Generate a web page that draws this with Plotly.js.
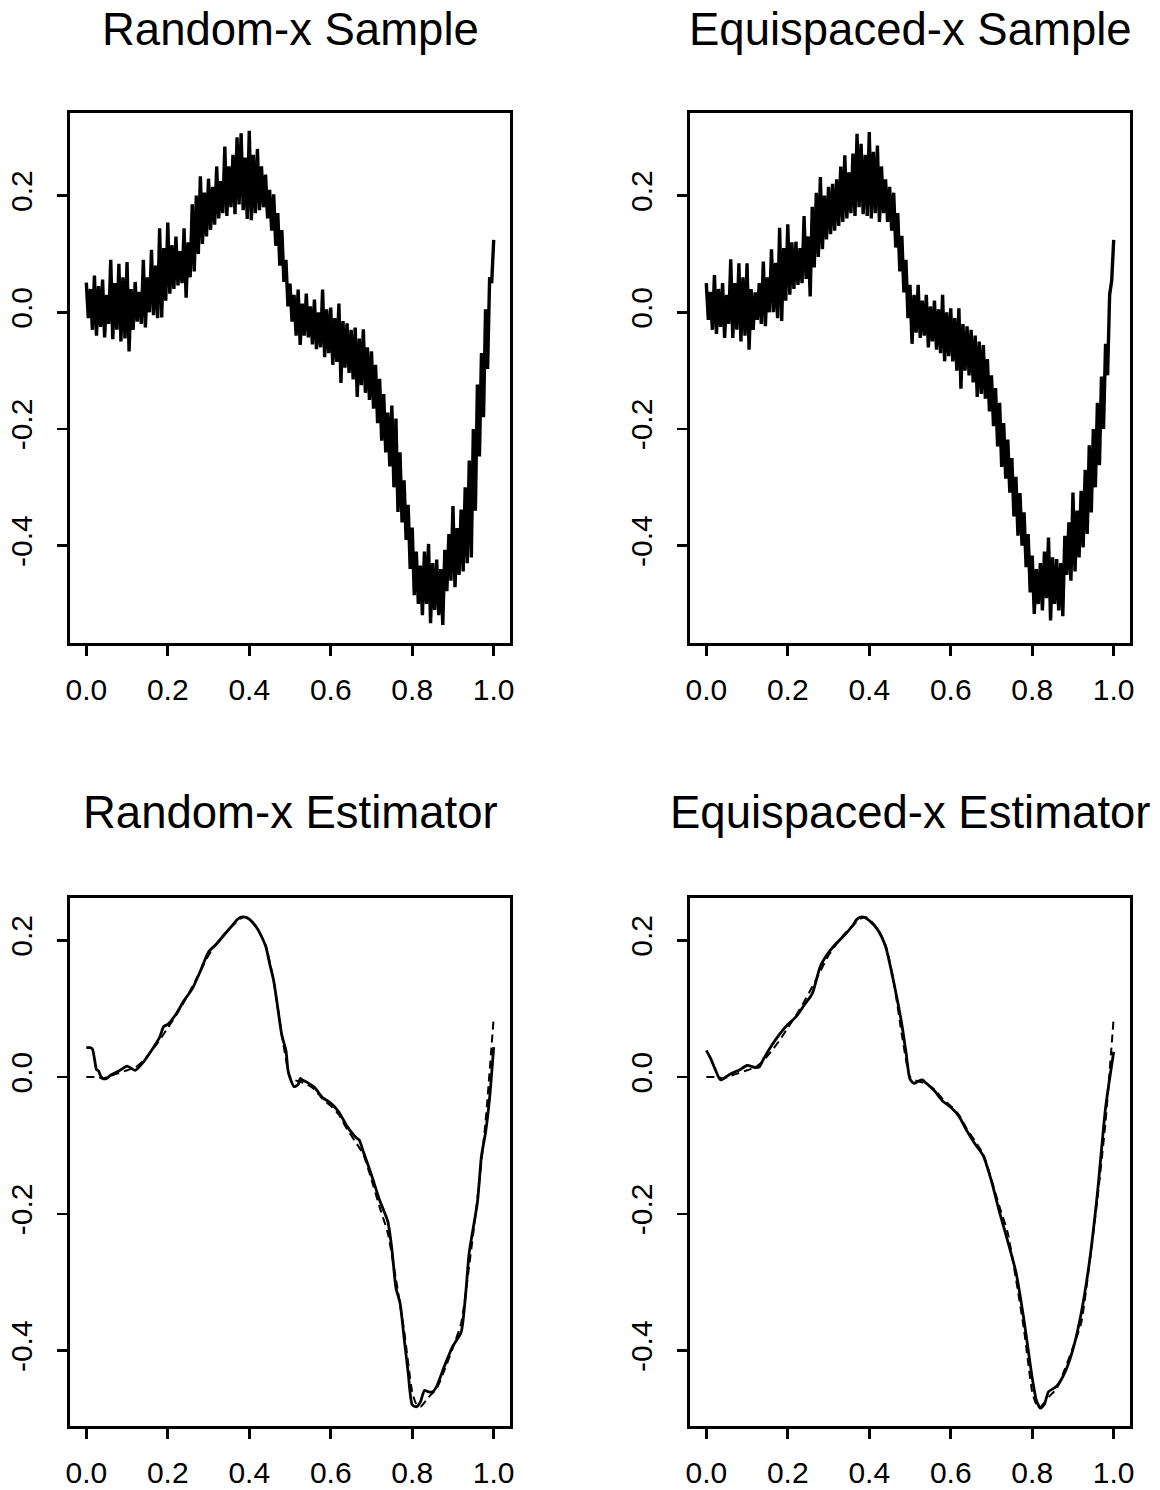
<!DOCTYPE html>
<html>
<head>
<meta charset="utf-8">
<script src="https://cdn.plot.ly/plotly-3.0.1.min.js"></script>
<style>html,body{margin:0;padding:0;background:#fff;}#chart{width:1160px;height:1490px;}</style>
</head>
<body>
<div id="chart"></div>
<script>
// ---------- Data ----------
const panelTitles = ["Random-x Sample", "Equispaced-x Sample", "Random-x Estimator", "Equispaced-x Estimator"];
const xTickVals = [0, 0.2, 0.4, 0.6, 0.8, 1.0];
const xTickText = ["0.0", "0.2", "0.4", "0.6", "0.8", "1.0"];
const yTickVals = [-0.4, -0.2, 0, 0.2];
const yTickText = ["-0.4", "-0.2", "0.0", "0.2"];

// Noisy samples: upper excursions at x = 0.00,0.01,...,1.00 and lower excursions at x = 0.005,...,0.995
const randUpper = [0.051,0.040,0.063,0.045,0.056,0.030,0.090,0.050,0.083,0.060,0.086,0.040,0.052,0.035,0.090,0.060,0.107,0.080,0.144,0.110,
 0.154,0.115,0.130,0.105,0.144,0.120,0.185,0.200,0.233,0.205,0.229,0.215,0.250,0.225,0.284,0.250,0.270,0.300,0.307,0.265,
 0.311,0.270,0.280,0.250,0.236,0.210,0.202,0.170,0.141,0.090,0.049,0.030,0.039,0.015,0.032,0.010,0.022,0.000,0.039,0.005,
 0.008,-0.010,0.015,-0.015,-0.019,-0.030,-0.026,-0.045,-0.029,-0.060,-0.067,-0.090,-0.114,-0.140,-0.172,-0.160,-0.182,-0.240,-0.288,-0.330,
 -0.369,-0.410,-0.434,-0.410,-0.397,-0.430,-0.424,-0.440,-0.407,-0.380,-0.332,-0.370,-0.338,-0.300,-0.254,-0.200,-0.124,-0.070,0.005,0.060,0.124];
const randLower = [-0.010,-0.030,-0.040,-0.025,-0.043,-0.020,-0.046,-0.030,-0.050,-0.045,-0.067,-0.030,-0.016,-0.020,-0.026,0.000,-0.005,-0.010,-0.009,0.020,
 0.032,0.040,0.046,0.050,0.025,0.060,0.070,0.100,0.117,0.130,0.141,0.150,0.161,0.170,0.165,0.180,0.168,0.185,0.175,0.160,
 0.158,0.170,0.175,0.180,0.161,0.140,0.114,0.080,0.052,0.010,-0.016,-0.040,-0.056,-0.040,-0.043,-0.055,-0.063,-0.060,-0.077,-0.070,
 -0.090,-0.085,-0.121,-0.095,-0.104,-0.115,-0.145,-0.125,-0.138,-0.150,-0.165,-0.190,-0.220,-0.240,-0.264,-0.300,-0.342,-0.360,-0.390,-0.440,
 -0.485,-0.500,-0.519,-0.500,-0.533,-0.510,-0.519,-0.536,-0.478,-0.460,-0.471,-0.450,-0.444,-0.430,-0.420,-0.340,-0.247,-0.180,-0.097,0.050];
const equiUpper = [0.050,0.035,0.064,0.040,0.050,0.030,0.091,0.050,0.084,0.060,0.084,0.040,0.034,0.050,0.087,0.060,0.108,0.085,0.145,0.110,
 0.151,0.120,0.121,0.110,0.165,0.130,0.181,0.205,0.232,0.200,0.215,0.220,0.228,0.250,0.269,0.240,0.272,0.306,0.289,0.270,
 0.309,0.275,0.286,0.250,0.228,0.215,0.205,0.170,0.131,0.090,0.047,0.030,0.047,0.020,0.030,0.010,0.020,0.005,0.030,0.000,
 0.007,-0.010,0.007,-0.020,-0.024,-0.030,-0.040,-0.050,-0.056,-0.080,-0.108,-0.130,-0.155,-0.190,-0.218,-0.250,-0.282,-0.310,-0.343,-0.380,
 -0.417,-0.440,-0.430,-0.410,-0.386,-0.420,-0.423,-0.430,-0.383,-0.360,-0.309,-0.340,-0.306,-0.270,-0.228,-0.200,-0.155,-0.110,-0.054,0.030,0.124];
const equiLower = [-0.013,-0.030,-0.037,-0.025,-0.044,-0.020,-0.044,-0.030,-0.050,-0.040,-0.064,-0.030,-0.013,-0.020,-0.024,0.000,0.000,-0.010,-0.015,0.020,
 0.030,0.040,0.047,0.050,0.057,0.027,0.077,0.095,0.108,0.125,0.134,0.140,0.148,0.155,0.161,0.170,0.165,0.180,0.168,0.165,
 0.161,0.170,0.155,0.170,0.155,0.140,0.111,0.070,0.034,-0.010,-0.054,-0.035,-0.044,-0.040,-0.060,-0.050,-0.064,-0.070,-0.084,-0.075,
 -0.084,-0.100,-0.131,-0.100,-0.108,-0.120,-0.145,-0.140,-0.148,-0.170,-0.195,-0.230,-0.265,-0.285,-0.309,-0.350,-0.383,-0.400,-0.437,-0.480,
 -0.517,-0.500,-0.511,-0.490,-0.528,-0.500,-0.511,-0.521,-0.450,-0.460,-0.444,-0.420,-0.403,-0.380,-0.343,-0.300,-0.262,-0.200,-0.108,0.054];

// True regression function (dashed)
const trueX = [0,0.02,0.03,0.04,0.06,0.08,0.10,0.12,0.14,0.16,0.18,0.20,0.22,0.24,0.26,0.28,0.30,0.32,0.34,0.36,0.38,0.39,0.40,0.42,0.44,0.46,0.48,0.50,0.51,0.52,0.54,0.56,0.58,0.60,0.62,0.64,0.66,0.68,0.70,0.72,0.74,0.76,0.78,0.80,0.81,0.82,0.84,0.86,0.88,0.90,0.92,0.94,0.96,0.98,1.00];
const trueY = [0,0,0,-0.002,0.002,0.006,0.010,0.014,0.024,0.038,0.054,0.072,0.090,0.110,0.132,0.155,0.178,0.195,0.210,0.222,0.232,0.234,0.231,0.217,0.193,0.140,0.062,0.000,-0.004,-0.006,-0.010,-0.018,-0.032,-0.042,-0.055,-0.076,-0.094,-0.113,-0.150,-0.190,-0.228,-0.295,-0.370,-0.460,-0.478,-0.482,-0.468,-0.455,-0.427,-0.395,-0.360,-0.275,-0.178,-0.065,0.087];

// Random-x estimator (solid)
const randEstX = [0,0.01,0.015,0.02,0.025,0.03,0.035,0.04,0.05,0.06,0.08,0.10,0.11,0.12,0.14,0.16,0.18,0.19,0.20,0.22,0.24,0.26,0.28,0.30,0.32,0.34,0.36,0.37,0.38,0.39,0.40,0.42,0.44,0.45,0.46,0.47,0.48,0.49,0.495,0.50,0.51,0.52,0.525,0.53,0.54,0.56,0.58,0.60,0.62,0.64,0.66,0.67,0.68,0.70,0.72,0.74,0.75,0.76,0.77,0.78,0.79,0.80,0.81,0.82,0.83,0.84,0.85,0.86,0.88,0.90,0.92,0.93,0.94,0.96,0.97,0.98,0.99,1.00];
const randEstY = [0.043,0.043,0.041,0.027,0.011,0.009,0.002,-0.002,-0.002,0.003,0.009,0.016,0.013,0.010,0.022,0.039,0.058,0.074,0.077,0.092,0.112,0.129,0.155,0.183,0.195,0.209,0.223,0.230,0.234,0.234,0.231,0.217,0.192,0.166,0.141,0.101,0.061,0.039,0.010,-0.001,-0.014,-0.011,-0.002,-0.004,-0.007,-0.015,-0.030,-0.038,-0.051,-0.072,-0.087,-0.092,-0.109,-0.143,-0.180,-0.211,-0.251,-0.308,-0.330,-0.381,-0.432,-0.479,-0.482,-0.475,-0.458,-0.460,-0.460,-0.452,-0.421,-0.393,-0.373,-0.325,-0.256,-0.183,-0.115,-0.081,-0.030,0.044];

// Equispaced-x estimator (solid)
const equiEstX = [0,0.01,0.02,0.03,0.035,0.04,0.06,0.08,0.10,0.12,0.13,0.14,0.16,0.18,0.20,0.22,0.24,0.26,0.28,0.30,0.32,0.34,0.36,0.37,0.38,0.39,0.40,0.42,0.44,0.46,0.48,0.49,0.50,0.51,0.52,0.53,0.54,0.56,0.58,0.60,0.62,0.64,0.66,0.68,0.70,0.72,0.74,0.76,0.78,0.80,0.81,0.82,0.83,0.84,0.86,0.88,0.90,0.92,0.94,0.96,0.98,1.00];
const equiEstY = [0.039,0.028,0.014,0.000,-0.004,-0.003,0.005,0.010,0.017,0.014,0.015,0.026,0.046,0.063,0.077,0.088,0.105,0.122,0.162,0.182,0.196,0.208,0.222,0.231,0.234,0.233,0.229,0.216,0.191,0.139,0.077,0.037,-0.003,-0.009,-0.006,-0.004,-0.009,-0.020,-0.035,-0.044,-0.057,-0.079,-0.098,-0.115,-0.152,-0.198,-0.240,-0.285,-0.356,-0.440,-0.472,-0.484,-0.478,-0.460,-0.452,-0.432,-0.398,-0.346,-0.272,-0.170,-0.045,0.037];

// ---------- Build zig-zag sample traces ----------
function zigzag(upper, lower) {
  const xs = [], ys = [];
  for (let i = 0; i < upper.length; i++) {
    xs.push(i / 100); ys.push(upper[i]);
    if (i < lower.length) { xs.push(i / 100 + 0.005); ys.push(lower[i]); }
  }
  return {xs, ys};
}
const zr = zigzag(randUpper, randLower);
const ze = zigzag(equiUpper, equiLower);

const sampleLine = {color: '#000', width: 3.4};
const dashLine = {color: '#000', width: 2, dash: '8px,5px', shape: 'spline', smoothing: 0.6};
const solidLine = {color: '#000', width: 2.8, shape: 'spline', smoothing: 0.6};
const data = [
  {x: zr.xs, y: zr.ys, type: 'scatter', mode: 'lines', line: sampleLine, xaxis: 'x', yaxis: 'y', showlegend: false},
  {x: ze.xs, y: ze.ys, type: 'scatter', mode: 'lines', line: sampleLine, xaxis: 'x2', yaxis: 'y2', showlegend: false},
  {x: trueX, y: trueY, type: 'scatter', mode: 'lines', line: dashLine, xaxis: 'x3', yaxis: 'y3', showlegend: false},
  {x: randEstX, y: randEstY, type: 'scatter', mode: 'lines', line: solidLine, xaxis: 'x3', yaxis: 'y3', showlegend: false},
  {x: trueX, y: trueY, type: 'scatter', mode: 'lines', line: dashLine, xaxis: 'x4', yaxis: 'y4', showlegend: false},
  {x: equiEstX, y: equiEstY, type: 'scatter', mode: 'lines', line: solidLine, xaxis: 'x4', yaxis: 'y4', showlegend: false}
];

const W = 1160, H = 1490;
const FONT = 'Liberation Sans, Arial, Helvetica, sans-serif';
function xa(l, r, anchor) {
  return {domain: [l / W, r / W], range: [-0.04, 1.04], anchor: anchor,
    tickvals: xTickVals, ticktext: xTickText, ticks: 'outside', ticklen: 10, tickwidth: 2.6, tickcolor: '#000',
    showline: true, mirror: true, linewidth: 3, linecolor: '#000', showgrid: false, zeroline: false,
    tickfont: {family: FONT, size: 30, color: '#000'}, ticklabelstandoff: 8, automargin: false, fixedrange: true};
}
function ya(top, bottom, range, anchor) {
  return {domain: [1 - bottom / H, 1 - top / H], range: range, anchor: anchor,
    tickvals: yTickVals, ticktext: yTickText, ticks: 'outside', ticklen: 10, tickwidth: 2.6, tickcolor: '#000',
    showline: true, mirror: true, linewidth: 3, linecolor: '#000', showgrid: false, zeroline: false, tickangle: -90,
    tickfont: {family: FONT, size: 30, color: '#000'}, ticklabelstandoff: 13, automargin: false, fixedrange: true};
}
const topRange = [-0.5668, 0.3421];
const botRange = [-0.5096, 0.2623];

const titlePos = [[291, 30], [910, 30], [290, 812], [910, 812]];
const annotations = panelTitles.map((t, i) => ({
  text: t, xref: 'paper', yref: 'paper', x: titlePos[i][0] / W, y: 1 - titlePos[i][1] / H,
  xanchor: 'center', yanchor: 'middle', showarrow: false, font: {family: FONT, size: 45.5, color: '#000'}
}));

const layout = {
  width: W, height: H, margin: {l: 0, r: 0, t: 0, b: 0}, paper_bgcolor: '#fff', plot_bgcolor: '#fff',
  showlegend: false,
  xaxis: xa(70, 510, 'y'), yaxis: ya(112.7, 643, topRange, 'x'),
  xaxis2: xa(690, 1130, 'y2'), yaxis2: ya(112.7, 643, topRange, 'x2'),
  xaxis3: xa(70, 510, 'y3'), yaxis3: ya(897.7, 1425.7, botRange, 'x3'),
  xaxis4: xa(690, 1130, 'y4'), yaxis4: ya(897.7, 1425.7, botRange, 'x4'),
  annotations: annotations
};
Plotly.newPlot('chart', data, layout, {staticPlot: true, displayModeBar: false});
</script>
</body>
</html>
